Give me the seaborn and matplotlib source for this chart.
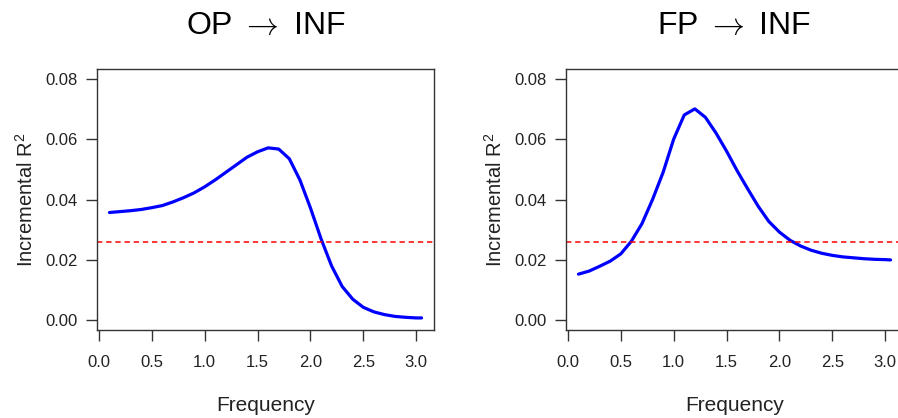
import numpy as np
import pandas as pd
import matplotlib
matplotlib.use("Agg")
import matplotlib.pyplot as plt
import seaborn as sns

# frequency grid
freq = [0.1, 0.2, 0.3, 0.4, 0.5, 0.6, 0.7, 0.8, 0.9, 1.0,
        1.1, 1.2, 1.3, 1.4, 1.5, 1.6, 1.7, 1.8, 1.9, 2.0,
        2.1, 2.2, 2.3, 2.4, 2.5, 2.6, 2.7, 2.8, 2.9, 3.0, 3.05]

# OP -> INF incremental R^2
op_inf = [0.0357, 0.0360, 0.0363, 0.0367, 0.0373, 0.0380, 0.0392, 0.0406, 0.0422, 0.0442,
          0.0465, 0.0490, 0.0515, 0.0540, 0.0558, 0.0571, 0.0567, 0.0535, 0.0465, 0.0372,
          0.0270, 0.0180, 0.0112, 0.0070, 0.0043, 0.0028, 0.0019, 0.0013, 0.0010, 0.0008, 0.0008]

# FP -> INF incremental R^2
fp_inf = [0.0153, 0.0163, 0.0179, 0.0196, 0.0220, 0.0262, 0.0320, 0.0400, 0.0490, 0.0600,
          0.0680, 0.0700, 0.0672, 0.0620, 0.0560, 0.0495, 0.0435, 0.0377, 0.0327, 0.0292,
          0.0265, 0.0246, 0.0232, 0.0222, 0.0215, 0.0210, 0.0207, 0.0204, 0.0202, 0.0201, 0.0200]

threshold = 0.026
titles = ["OP $\\rightarrow$ INF", "FP $\\rightarrow$ INF"]
xticks = [0.0, 0.5, 1.0, 1.5, 2.0, 2.5, 3.0]
yticks = [0.00, 0.02, 0.04, 0.06, 0.08]

sns.set_style("white")
plt.rcParams['font.family'] = ['Liberation Sans', 'DejaVu Sans']
plt.rcParams['mathtext.fontset'] = 'custom'
plt.rcParams['mathtext.rm'] = 'Liberation Sans'
plt.rcParams['mathtext.it'] = 'Liberation Sans'

fig = plt.figure(figsize=(8.98, 4.18), dpi=100)
axes = [fig.add_axes([0.108, 0.2105, 0.3753, 0.6244]),
        fig.add_axes([0.6303, 0.2105, 0.3753, 0.6244])]

for ax, vals, title in zip(axes, [op_inf, fp_inf], titles):
    df = pd.DataFrame({"Frequency": freq, "R2": vals})
    sns.lineplot(data=df, x="Frequency", y="R2", ax=ax, color="#0000FF", linewidth=2.3)
    ax.axhline(threshold, color="#FF0000", linestyle=(0, (3.5, 2.5)), linewidth=1.1)
    ax.set_xlim(-0.018, 3.168)
    ax.set_ylim(-0.0032, 0.0832)
    ax.set_xticks(xticks)
    ax.set_xticklabels([f"{t:.1f}" for t in xticks])
    ax.set_yticks(yticks)
    ax.set_yticklabels([f"{t:.2f}" for t in yticks])
    ax.tick_params(axis="x", direction="out", length=8, width=1, pad=10, labelsize=12,
                   color="#333333", labelcolor="#222222", bottom=True)
    ax.tick_params(axis="y", direction="out", length=8, width=1, pad=6, labelsize=12,
                   color="#333333", labelcolor="#222222", left=True)
    for sp in ax.spines.values():
        sp.set_color("#333333")
        sp.set_linewidth(1.0)
    ax.set_xlabel("Frequency", fontsize=15, color="#222222", labelpad=19)
    ax.set_ylabel("Incremental R$^2$", fontsize=14.5, color="#222222", labelpad=6)
    ax.set_title(title, fontsize=23, pad=25, color="black", math_fontfamily="cm")

fig.savefig("out.png", dpi=100)
